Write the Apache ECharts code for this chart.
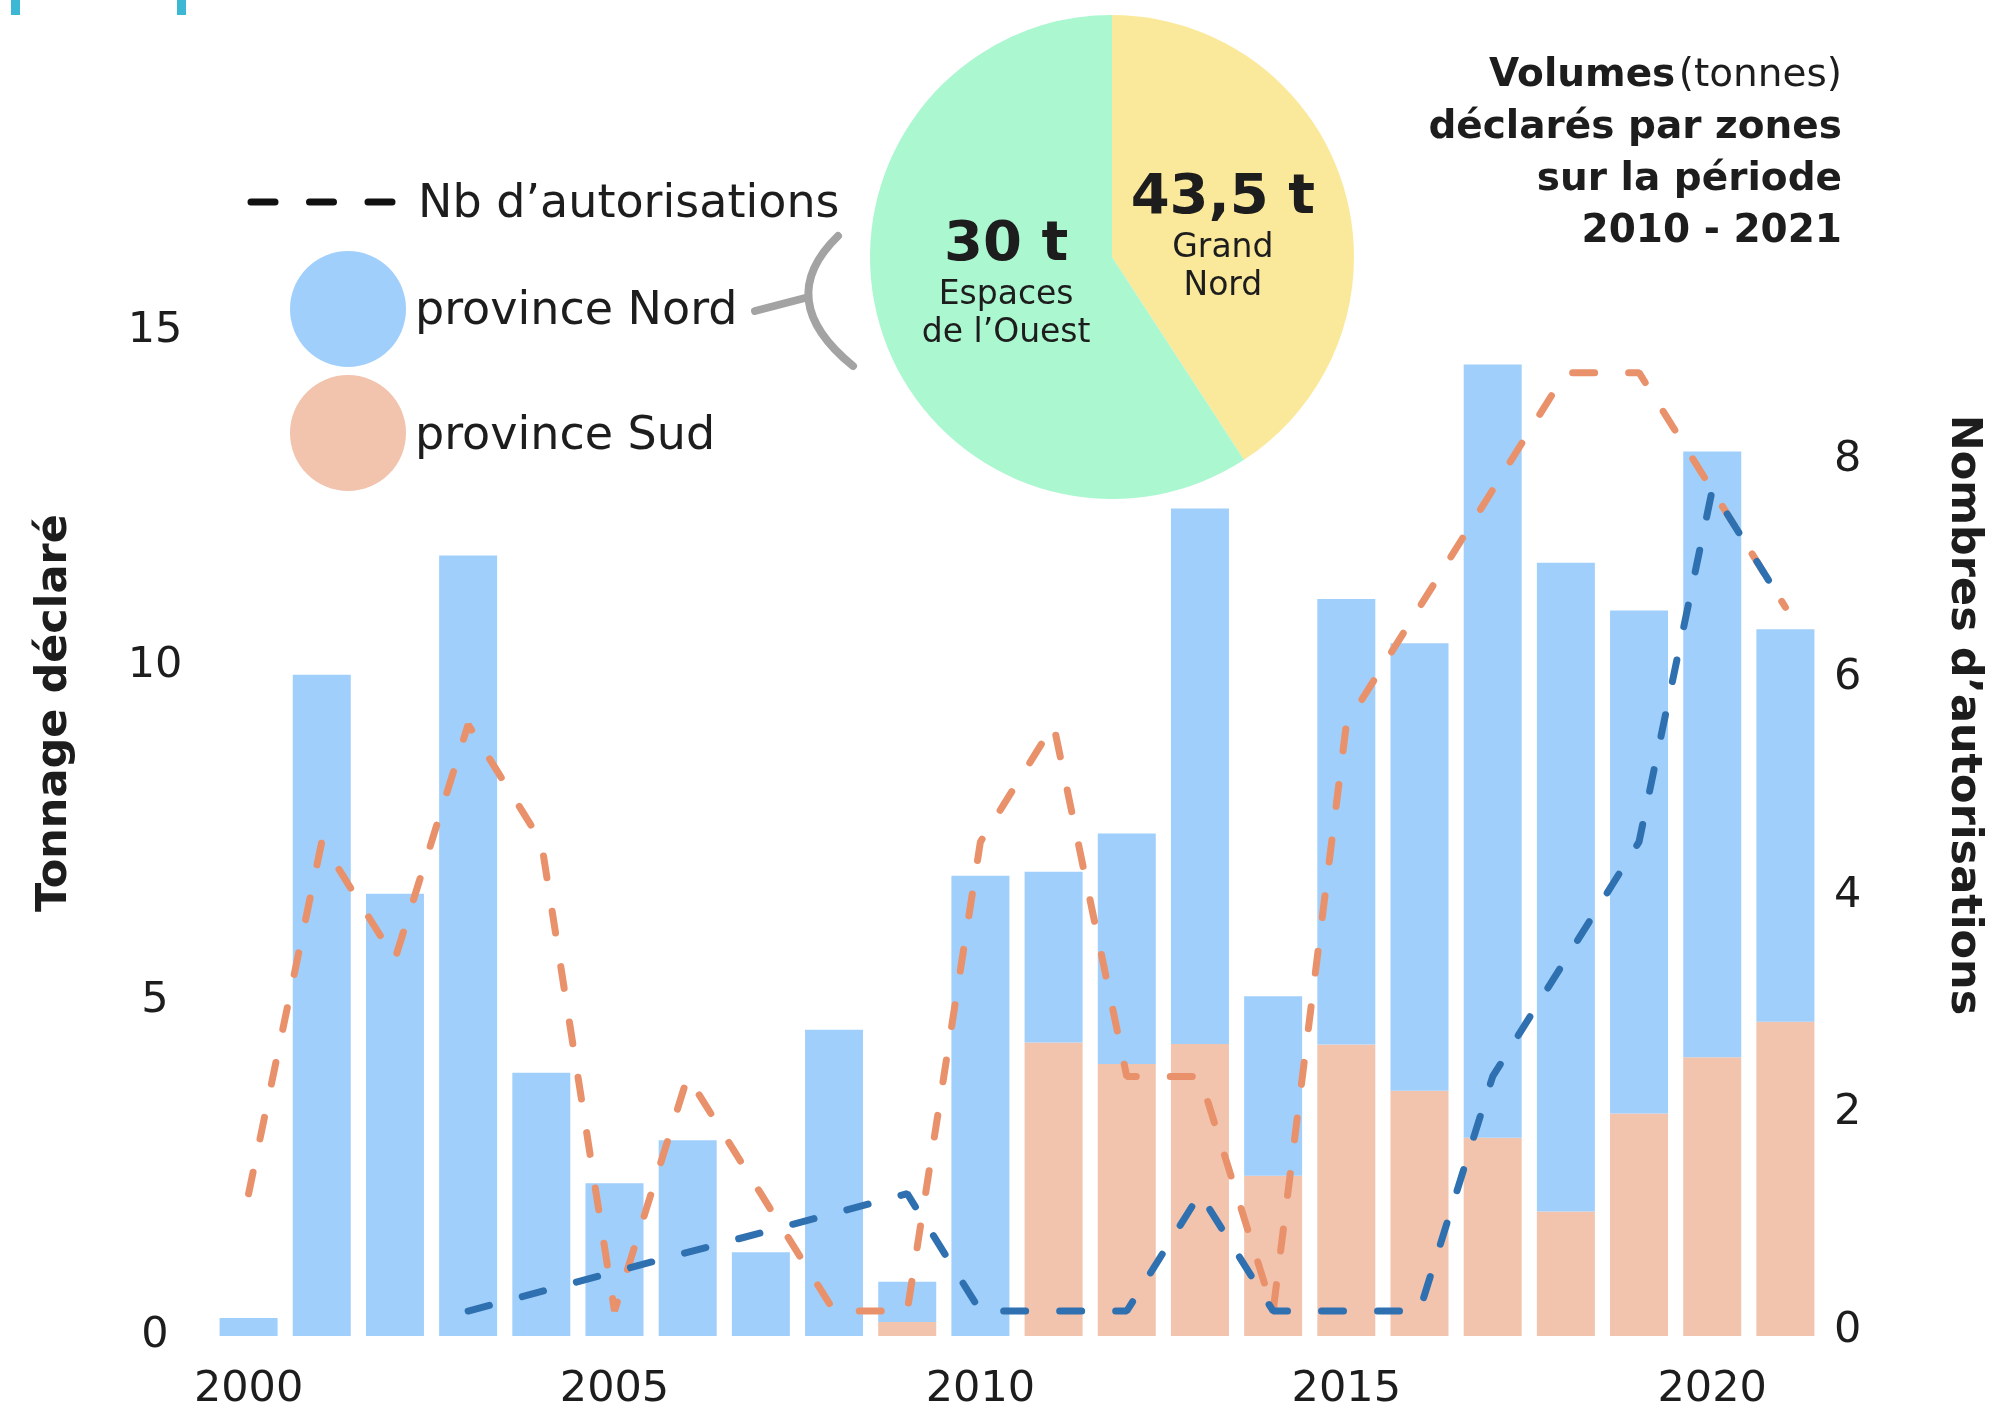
<!DOCTYPE html>
<html>
<head>
<meta charset="utf-8">
<title>Volumes déclarés</title>
<script src="https://cdn.jsdelivr.net/npm/echarts@6/dist/echarts.min.js"></script>
<style>
  html, body { margin: 0; padding: 0; background: #fff; }
  #chart { width: 1992px; height: 1416px; }
</style>
</head>
<body>
<div id="chart"></div>
<script>
(function() {
    'use strict';

    // années
    var years = ['2000', '2001', '2002', '2003', '2004', '2005', '2006', '2007', '2008', '2009', '2010',
        '2011', '2012', '2013', '2014', '2015', '2016', '2017', '2018', '2019', '2020', '2021'];

    // tonnage déclaré (t)
    var tonnageNord = [0.27, 9.87, 6.6, 11.65, 3.93, 2.28, 2.92, 1.25, 4.57, 0.6, 6.87,
        2.55, 3.44, 7.99, 2.68, 6.65, 6.68, 11.54, 9.68, 7.51, 9.04, 5.86];
    var tonnageSud = [0, 0, 0, 0, 0, 0, 0, 0, 0, 0.21, 0,
        4.38, 4.06, 4.36, 2.39, 4.35, 3.66, 2.96, 1.86, 3.32, 4.16, 4.69];

    // nombre d'autorisations (lignes pointillées)
    var autorisOrange = [1, 4, 3, 5, 4, 0, 2, 1, 0, 0, 4, 5, 2, 2, 0, 5, 6, 7, 8, 8, 7, 6];
    var autorisBleu = [null, null, null, 0, null, null, null, null, null, 1, 0,
        0, 0, 1, 0, 0, 0, 2, 3, 4, 7, 6];

    // graduations de l'axe de droite
    var rightTicks = [0, 2, 4, 6, 8];

    // camembert : parts dessinées et textes affichés
    var zoneNames = ['Grand Nord', 'Espaces de l’Ouest'];
    var zoneShares = [30, 43.5];
    var zoneValueText = ['43,5 t', '30 t'];
    var zoneNameLines = [['Grand', 'Nord'], ['Espaces', 'de l’Ouest']];

    var FONT = 'DejaVu Sans';
    var INK = '#1d1d1d';
    var BLUE = '#a0cffb';
    var ROSE = '#f2c3ad';
    var LINE_ORANGE = '#e9916b';
    var LINE_BLUE = '#2f71b0';

    // petit décalage des étiquettes du camembert
    var pieLabelShift = [[-8, 15], [13, -9]];

    var chart = echarts.init(document.getElementById('chart'), null, { renderer: 'canvas' });

    var pieData = zoneNames.map(function(n, i) {
        return { name: n, value: zoneShares[i] };
    });

    var option = {
        backgroundColor: '#ffffff',
        animation: false,
        grid: { left: 212, right: 170, top: 331, bottom: 80 },
        xAxis: {
            type: 'category',
            data: years,
            axisLine: { show: false },
            axisTick: { show: false },
            axisLabel: {
                interval: 4,
                fontFamily: FONT,
                fontSize: 43,
                color: INK,
                margin: 32
            }
        },
        yAxis: [{
            type: 'value',
            position: 'left',
            min: 0,
            max: 15,
            interval: 5,
            splitLine: { show: false },
            axisLine: { show: false },
            axisTick: { show: false },
            axisLabel: {
                fontFamily: FONT,
                fontSize: 43,
                color: INK,
                align: 'center',
                margin: 57
            }
        }, {
            // échelle des lignes
            type: 'value',
            show: false,
            min: -0.213,
            max: 8.355
        }, {
            // graduations affichées à droite
            type: 'value',
            position: 'right',
            min: -0.05,
            max: 9.187,
            splitLine: { show: false },
            axisLine: { show: false },
            axisTick: { show: false },
            axisLabel: {
                customValues: rightTicks,
                fontFamily: FONT,
                fontSize: 43,
                color: INK,
                margin: 12
            }
        }],
        series: [{
            name: 'province Sud',
            type: 'bar',
            stack: 'tonnage',
            data: tonnageSud,
            barWidth: 58,
            itemStyle: { color: ROSE },
            z: 2
        }, {
            name: 'province Nord',
            type: 'bar',
            stack: 'tonnage',
            data: tonnageNord,
            barWidth: 58,
            itemStyle: { color: BLUE },
            z: 2
        }, {
            name: 'Nb d’autorisations (orange)',
            type: 'line',
            yAxisIndex: 1,
            data: autorisOrange,
            symbol: 'none',
            lineStyle: { color: LINE_ORANGE, width: 7, type: [22, 34], cap: 'round' },
            z: 4
        }, {
            name: 'Nb d’autorisations (bleu)',
            type: 'line',
            yAxisIndex: 1,
            data: autorisBleu,
            connectNulls: true,
            symbol: 'none',
            lineStyle: { color: LINE_BLUE, width: 7, type: [22, 34], cap: 'round' },
            z: 5
        }, {
            name: 'Volumes par zones',
            type: 'pie',
            center: [1112, 257],
            radius: [0, 242],
            startAngle: 90,
            clockwise: true,
            silent: true,
            data: pieData,
            color: ['#fbe99b', '#abf7d0'],
            label: {
                position: 'inside',
                formatter: function(p) {
                    var lines = zoneNameLines[p.dataIndex].map(function(l) {
                        return '{n|' + l + '}';
                    });
                    return '{v|' + zoneValueText[p.dataIndex] + '}\n' + lines.join('\n');
                },
                rich: {
                    v: { fontFamily: FONT, fontSize: 56, fontWeight: 'bold', color: INK, lineHeight: 62 },
                    n: { fontFamily: FONT, fontSize: 33, color: INK, lineHeight: 38 }
                }
            },
            labelLayout: function(params) {
                var s = pieLabelShift[params.dataIndex] || [0, 0];
                return { dx: s[0], dy: s[1] };
            },
            labelLine: { show: false },
            z: 6
        }],
        graphic: [
            // traits cyan coin haut gauche
            { type: 'rect', shape: { x: 11, y: 0, width: 9, height: 15 }, style: { fill: '#3db8d4' } },
            { type: 'rect', shape: { x: 177, y: 0, width: 9, height: 15 }, style: { fill: '#3db8d4' } },
            // légende
            {
                type: 'line',
                shape: { x1: 251, y1: 202, x2: 392, y2: 202 },
                style: { stroke: '#111', lineWidth: 7, lineDash: [24, 34.5], lineCap: 'round' }
            },
            {
                type: 'text', x: 418, y: 205,
                style: { text: 'Nb d’autorisations', fontFamily: FONT, fontSize: 46, fill: INK, verticalAlign: 'middle' }
            },
            { type: 'circle', shape: { cx: 348, cy: 309, r: 58 }, style: { fill: BLUE } },
            { type: 'circle', shape: { cx: 348, cy: 433, r: 58 }, style: { fill: ROSE } },
            {
                type: 'text', x: 415, y: 312,
                style: { text: 'province Nord', fontFamily: FONT, fontSize: 46, fill: INK, verticalAlign: 'middle' }
            },
            {
                type: 'text', x: 415, y: 437,
                style: { text: 'province Sud', fontFamily: FONT, fontSize: 46, fill: INK, verticalAlign: 'middle' }
            },
            // accolade grise vers le camembert
            {
                type: 'line',
                shape: { x1: 755, y1: 311, x2: 805, y2: 298 },
                style: { stroke: '#a3a3a3', lineWidth: 8, lineCap: 'round' }
            },
            {
                type: 'bezierCurve',
                shape: { x1: 838, y1: 236, cpx1: 772, cpy1: 300, x2: 853, y2: 366 },
                style: { stroke: '#a3a3a3', lineWidth: 8, lineCap: 'round', fill: null }
            },
            // titre
            {
                type: 'text', x: 1842, y: 50,
                style: {
                    text: '{b|Volumes} {r|(tonnes)}\n{b|déclarés par zones}\n{b|sur la période}\n{b|2010 - 2021}',
                    align: 'right',
                    verticalAlign: 'top',
                    rich: {
                        b: { fontFamily: FONT, fontSize: 39, fontWeight: 'bold', fill: INK, lineHeight: 52 },
                        r: { fontFamily: FONT, fontSize: 39, fill: INK, lineHeight: 52 }
                    }
                }
            },
            // titres des axes
            {
                type: 'text', x: 55, y: 713, rotation: Math.PI / 2,
                style: {
                    text: 'Tonnage déclaré', fontFamily: FONT, fontSize: 43, fontWeight: 'bold',
                    fill: INK, align: 'center', verticalAlign: 'middle'
                }
            },
            {
                type: 'text', x: 1963, y: 715, rotation: -Math.PI / 2,
                style: {
                    text: 'Nombres d’autorisations', fontFamily: FONT, fontSize: 43, fontWeight: 'bold',
                    fill: INK, align: 'center', verticalAlign: 'middle'
                }
            }
        ]
    };

    chart.setOption(option);
})();
</script>
</body>
</html>
